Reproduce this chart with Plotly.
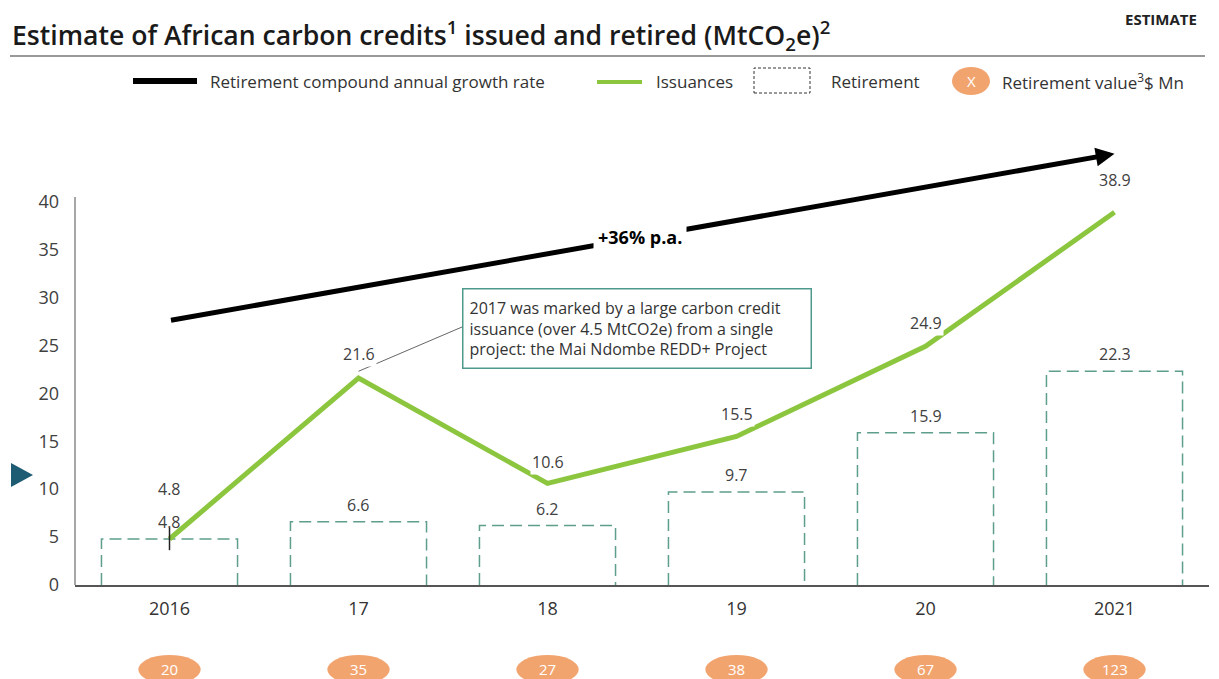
import plotly.graph_objects as go

# ---------------- data ----------------
years = ["2016", "17", "18", "19", "20", "2021"]
issuances = [4.8, 21.6, 10.6, 15.5, 24.9, 38.9]
retirement = [4.8, 6.6, 6.2, 9.7, 15.9, 22.3]
retirement_value = [20, 35, 27, 38, 67, 123]
cagr_label = "+36% p.a."
cagr_start, cagr_end = 27.6, 45.0
y_ticks = [0, 5, 10, 15, 20, 25, 30, 35, 40]

# ---------------- style ----------------
FONT = "Open Sans"
GREEN = "#8CC63F"
TEAL = "#5E9E8C"
ORANGE = "#F2A46F"
TXT = "#404040"
issuance_label_shift = [50, 24, 21, 22, 23, 32]
bar_label_shift = 17
half_bar = 0.36

W, H = 1219, 679
ML, MR, MT, MB = 75, 10, 125, 94
PW, PH = W - ML - MR, H - MT - MB


def px(xp):
    return (xp - ML) / PW


def py(yp):
    return (H - MB - yp) / PH


xs = list(range(len(years)))
fig = go.Figure()

fig.add_trace(go.Scatter(x=xs, y=issuances, mode="lines",
                         line=dict(color=GREEN, width=5), showlegend=False,
                         hoverinfo="skip"))
fig.add_trace(go.Scatter(x=[xs[0]], y=[issuances[0]], mode="markers",
                         marker=dict(symbol="line-ns-open", size=16, color="#222",
                                     line=dict(color="#222", width=1.5)),
                         showlegend=False, hoverinfo="skip"))

shapes = []
annotations = []


def note(**kw):
    kw.setdefault("showarrow", False)
    kw.setdefault("xanchor", "center")
    kw.setdefault("yanchor", "middle")
    annotations.append(kw)


# retirement bars (dashed outlines, open at bottom)
for i, v in enumerate(retirement):
    x0, x1 = i - half_bar, i + half_bar
    shapes.append(dict(type="path", xref="x", yref="y",
                       path=f"M {x0},0 L {x0},{v} L {x1},{v} L {x1},0",
                       line=dict(color=TEAL, width=1.5, dash="12px,6px"),
                       layer="below"))
    note(x=i, y=v, xref="x", yref="y", text=f"{v}", yshift=bar_label_shift,
         font=dict(family=FONT, size=16, color=TXT))

# issuance labels
for i, v in enumerate(issuances):
    note(x=i, y=v, xref="x", yref="y", text=f"{v}", yshift=issuance_label_shift[i],
         bgcolor="white", borderpad=1,
         font=dict(family=FONT, size=16, color=TXT))

# CAGR arrow
annotations.append(dict(x=xs[-1], y=cagr_end, ax=xs[0], ay=cagr_start,
                        xref="x", yref="y", axref="x", ayref="y", text="",
                        showarrow=True, arrowhead=2, arrowsize=0.75,
                        arrowwidth=5, arrowcolor="black", standoff=0))
lx = 2.49
ly = cagr_start + (cagr_end - cagr_start) * lx / xs[-1]
note(x=lx, y=ly, xref="x", yref="y", text=f"<b>{cagr_label}</b>",
     bgcolor="white", borderpad=4,
     font=dict(family=FONT, size=18, color="black"))

# callout
note(x=px(637), y=py(328), xref="paper", yref="paper",
     text="2017 was marked by a large carbon credit<br>"
          "issuance (over 4.5 MtCO2e) from a single<br>"
          "project: the Mai Ndombe REDD+ Project",
     align="left", width=335, height=66,
     bgcolor="white", bordercolor="#4E9A8C", borderwidth=1.5, borderpad=6,
     font=dict(family=FONT, size=16, color="#333"))
shapes.append(dict(type="line", xref="x", yref="y", x0=1, y0=issuances[1] + 0.7,
                   x1=(462 - 169.5) / 189, y1=(585 - 327) / (PH / 48),
                   line=dict(color="#666", width=1)))

# y axis line (partial)
shapes.append(dict(type="line", xref="paper", yref="y", x0=0, x1=0, y0=0, y1=40.5,
                   line=dict(color="#888", width=1.5)))

# retirement value ovals
for i, v in enumerate(retirement_value):
    shapes.append(dict(type="circle", xref="x", yref="paper",
                       x0=i - 0.165, x1=i + 0.165, y0=py(684), y1=py(655),
                       fillcolor=ORANGE, line=dict(width=0)))
    note(x=i, y=py(669), xref="x", yref="paper", text=str(v),
         font=dict(family=FONT, size=15, color="white"))

# title
note(x=px(10), y=py(35), xref="paper", yref="paper", xanchor="left",
     text="Estimate of African carbon credits<sup>1</sup> issued and retired (MtCO<sub>2</sub>e)<sup>2</sup>",
     font=dict(family=FONT, size=26.6, color="#1a1a1a", weight=600))
note(x=px(1199), y=py(19), xref="paper", yref="paper", xanchor="right",
     text="<b>ESTIMATE</b>", font=dict(family=FONT, size=15, color="#222"))
shapes.append(dict(type="line", xref="paper", yref="paper", x0=px(10), x1=px(1205),
                   y0=py(56), y1=py(56), line=dict(color="#777", width=1.5)))

# legend
LY = py(81)
shapes.append(dict(type="line", xref="paper", yref="paper", x0=px(133), x1=px(197),
                   y0=LY, y1=LY, line=dict(color="black", width=6)))
shapes.append(dict(type="line", xref="paper", yref="paper", x0=px(597), x1=px(642),
                   y0=py(82), y1=py(82), line=dict(color=GREEN, width=4)))
shapes.append(dict(type="rect", xref="paper", yref="paper", x0=px(754), x1=px(810),
                   y0=py(93), y1=py(68), line=dict(color="#333", width=1, dash="3px,2px")))
shapes.append(dict(type="circle", xref="paper", yref="paper", x0=px(952), x1=px(990),
                   y0=py(95), y1=py(67), fillcolor=ORANGE, line=dict(width=0)))
note(x=px(971), y=py(81), xref="paper", yref="paper", text="X",
     font=dict(family=FONT, size=15, color="white"))
for xpix, txt in [(208, "Retirement compound annual growth rate"), (654, "Issuances"),
                  (829, "Retirement"), (1000, "Retirement value<sup>3</sup>$ Mn")]:
    note(x=px(xpix), y=LY, xref="paper", yref="paper", text=txt, xanchor="left",
         font=dict(family=FONT, size=17, color="#333"))

# left navigation triangle
shapes.append(dict(type="path", xref="paper", yref="paper",
                   path=f"M {px(11)},{py(463)} L {px(33)},{py(475)} L {px(11)},{py(487)} Z",
                   fillcolor="#1D5C73", line=dict(width=0)))

fig.update_layout(
    width=W, height=H, margin=dict(l=ML, r=MR, t=MT, b=MB),
    plot_bgcolor="white", paper_bgcolor="white", showlegend=False,
    shapes=shapes, annotations=annotations,
    xaxis=dict(range=[-0.5, 5.5], tickvals=xs, ticktext=years, showgrid=False,
               zeroline=False, showline=True, linecolor="#555", linewidth=1.5,
               ticks="", ticklabelstandoff=7,
               tickfont=dict(family=FONT, size=18, color="#333")),
    yaxis=dict(range=[0, 48], tickvals=y_ticks, showgrid=False, zeroline=False,
               showline=False, ticks="", ticklabelstandoff=15,
               tickfont=dict(family=FONT, size=18, color=TXT)),
)

fig.write_html("out.html", config={"displayModeBar": False},
               post_script="document.body.style.margin='0';")
